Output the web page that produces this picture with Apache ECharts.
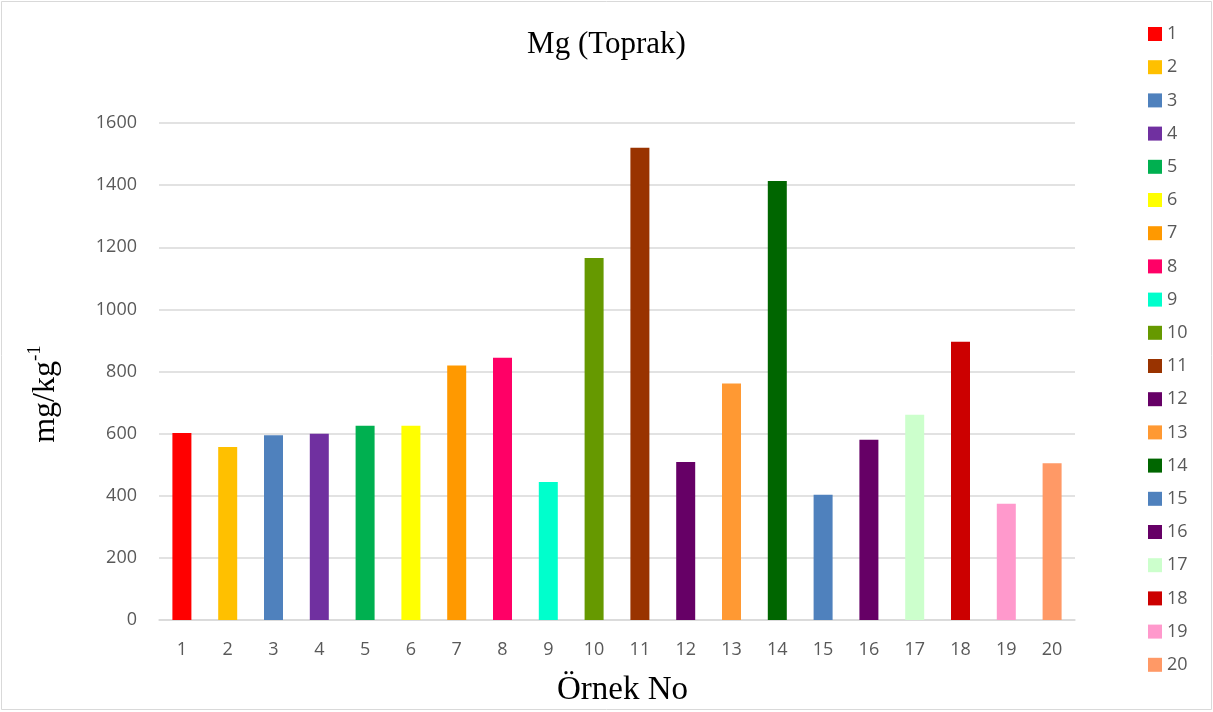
<!DOCTYPE html>
<html>
<head>
<meta charset="utf-8">
<title>Mg (Toprak)</title>
<script src="https://cdn.jsdelivr.net/npm/echarts@6/dist/echarts.min.js"></script>
<style>
  html, body { margin: 0; padding: 0; background: #ffffff; }
  #chart { width: 1213px; height: 712px; }
</style>
</head>
<body>
<div id="chart"></div>
<script>
// Sample numbers (x axis categories)
const categories = ['1','2','3','4','5','6','7','8','9','10','11','12','13','14','15','16','17','18','19','20'];

// Mg content per sample, mg/kg
const mgValues = [602, 557, 595, 600, 625, 625, 819, 844, 444, 1165, 1520, 509, 761, 1413, 403, 580, 661, 896, 374, 505];

// One colour per sample
const sampleColors = ['#FF0000','#FFC000','#4F81BD','#7030A0','#00B050','#FFFF00','#FF9900','#FF0066','#00FFCC','#669900',
                      '#993300','#660066','#FF9933','#006600','#4F81BD','#660066','#CCFFCC','#CC0000','#FF99CC','#FF9966'];

// Value axis ticks
const yTicks = [0, 200, 400, 600, 800, 1000, 1200, 1400, 1600];

const sansFont = '"Open Sans", "Noto Sans", sans-serif';
const serifFont = '"Liberation Serif", "DejaVu Serif", serif';

// Each sample is its own series (so it gets its own legend entry); stacking keeps each bar centred on its category.
const series = categories.map((name, i) => ({
  name: name,
  type: 'bar',
  stack: 'samples',
  barWidth: 19,
  itemStyle: { color: sampleColors[i] },
  emphasis: { disabled: true },
  data: categories.map((_, j) => (j === i ? mgValues[i] : null))
}));

const chart = echarts.init(document.getElementById('chart'), null, { renderer: 'canvas' });
chart.setOption({
  animation: false,
  backgroundColor: '#ffffff',
  title: {
    text: 'Mg (Toprak)',
    left: 'center',
    top: 24,
    textStyle: { fontFamily: serifFont, fontSize: 31, fontWeight: 'normal', color: '#000000' }
  },
  legend: {
    orient: 'vertical',
    left: 1143,
    top: 20,
    itemWidth: 14,
    itemHeight: 14,
    itemGap: 15.2,
    icon: 'rect',
    textStyle: { fontFamily: sansFont, fontSize: 18, color: '#595959' },
    data: categories
  },
  grid: { left: 159, right: 138, top: 123, bottom: 92, containLabel: false },
  xAxis: {
    type: 'category',
    data: categories,
    name: 'Örnek No',
    nameLocation: 'middle',
    nameGap: 54,
    nameTextStyle: { fontFamily: serifFont, fontSize: 33, color: '#000000', padding: [0, 0, 0, 11] },
    axisLine: { lineStyle: { color: '#D9D9D9', width: 1.5 } },
    axisTick: { show: false },
    axisLabel: { fontFamily: sansFont, fontSize: 18, color: '#595959', margin: 21 }
  },
  yAxis: {
    type: 'value',
    min: yTicks[0],
    max: yTicks[yTicks.length - 1],
    interval: yTicks[1] - yTicks[0],
    axisLine: { show: false },
    axisTick: { show: false },
    splitLine: { lineStyle: { color: '#D9D9D9', width: 1.5 } },
    axisLabel: { fontFamily: sansFont, fontSize: 18, color: '#595959', margin: 22, formatter: v => String(v) }
  },
  graphic: [
    {
      type: 'rect',
      shape: { x: 1.5, y: 1.5, width: 1210, height: 708 },
      style: { fill: 'none', stroke: '#D9D9D9', lineWidth: 1 },
      silent: true
    },
    {
      // value axis title with superscript unit exponent
      type: 'text',
      x: 44,
      y: 394,
      rotation: Math.PI / 2,
      silent: true,
      style: {
        text: '{b|mg/kg}{s|-1}',
        align: 'center',
        verticalAlign: 'middle',
        rich: {
          b: { fontFamily: serifFont, fontSize: 32, fill: '#000000', lineHeight: 36, verticalAlign: 'bottom' },
          s: { fontFamily: serifFont, fontSize: 19, fill: '#000000', lineHeight: 36, verticalAlign: 'top' }
        }
      }
    }
  ],
  series: series
});
</script>
</body>
</html>
